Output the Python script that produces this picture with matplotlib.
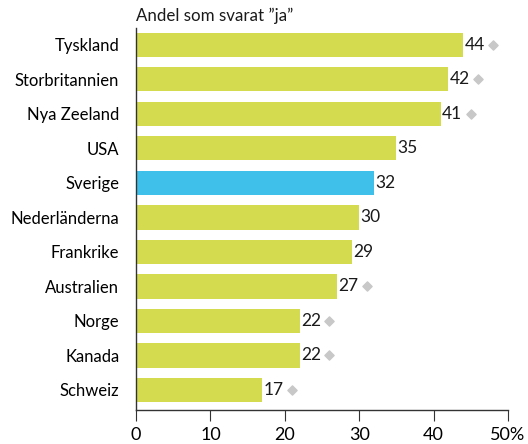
import matplotlib
matplotlib.use("Agg")
import matplotlib.pyplot as plt

plt.rcParams['font.family'] = ['Lato', 'DejaVu Sans']

countries = ["Tyskland", "Storbritannien", "Nya Zeeland", "USA", "Sverige",
             "Nederländerna", "Frankrike", "Australien", "Norge", "Kanada", "Schweiz"]
values = [44, 42, 41, 35, 32, 30, 29, 27, 22, 22, 17]
marked = [True, True, True, False, False, False, False, True, True, True, True]
highlight = "Sverige"

green = "#d4db4e"
blue = "#3fc0ea"
colors = [blue if c == highlight else green for c in countries]

fig = plt.figure(figsize=(5.28, 4.44), dpi=100)
ax = fig.add_axes([0.2576, 0.0766, 0.7044, 0.8604])

pos = list(range(len(countries)))
ax.barh(pos, values, height=0.7, color=colors)
ax.set_ylim(len(countries) - 0.42, -0.49)
ax.set_xlim(0, 50)

for p, v, m in zip(pos, values, marked):
    ax.text(v + 0.15, p, str(v), va="center", ha="left", fontsize=12.5, color="#1a1a1a")
    if m:
        ax.scatter(v + 4.0, p, marker="D", s=22, color="#c8c8c8", zorder=3, clip_on=False)

ax.set_yticks(pos)
ax.set_yticklabels(countries, fontsize=12)
ax.tick_params(axis="y", length=0, pad=12)
ax.set_xticks([0, 10, 20, 30, 40, 50])
ax.set_xticklabels(["0", "10", "20", "30", "40", "50%"], fontsize=13)
ax.tick_params(axis="x", length=8, direction="out", color="#333333", pad=4)

for s in ["top", "right"]:
    ax.spines[s].set_visible(False)
for s in ["left", "bottom"]:
    ax.spines[s].set_color("#333333")
    ax.spines[s].set_linewidth(1)

fig.text(0.2576, 0.965, "Andel som svarat ”ja”", ha="left", va="center", fontsize=12.2, color="#1a1a1a")

fig.savefig("out.png", dpi=100)
